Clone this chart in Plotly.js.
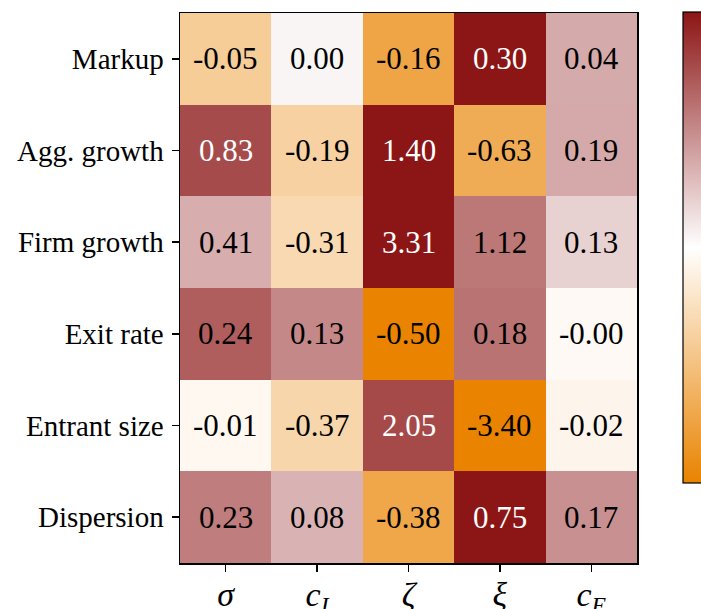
<!DOCTYPE html>
<html>
<head>
<meta charset="utf-8">
<script src="https://cdn.plot.ly/plotly-3.0.1.min.js"></script>
<style>html,body{margin:0;padding:0;background:#fff;}#chart{width:701px;height:609px;}</style>
</head>
<body>
<div id="chart"></div>
<script>
const rowLabels = ["Markup", "Agg. growth", "Firm growth", "Exit rate", "Entrant size", "Dispersion"];
const paramLabels = ["<i>σ</i>", "<i>c</i><sub><i>I</i></sub>", "<i>ζ</i>", "<i>ξ</i>", "<i>c</i><sub><i>E</i></sub>"];
const markup      = [-0.05, 0.0005, -0.16, 0.30, 0.04];
const aggGrowth   = [0.83, -0.19, 1.40, -0.63, 0.19];
const firmGrowth  = [0.41, -0.31, 3.31, 1.12, 0.13];
const exitRate    = [0.24, 0.13, -0.50, 0.18, -0.001];
const entrantSize = [-0.01, -0.37, 2.05, -3.40, -0.02];
const dispersion  = [0.23, 0.08, -0.38, 0.75, 0.17];

const values = [markup, aggGrowth, firmGrowth, exitRate, entrantSize, dispersion];
const xIdx = paramLabels.map((_, i) => i);

// colour intensity: signed square root of value relative to the row's largest magnitude
const zNorm = values.map(row => {
  const m = Math.max(...row.map(Math.abs));
  return row.map(v => Math.sign(v) * Math.sqrt(Math.abs(v) / m));
});

const annotations = [];
values.forEach((row, r) => {
  row.forEach((v, c) => {
    annotations.push({
      x: c, y: rowLabels[r], xref: 'x', yref: 'y',
      text: v.toFixed(2), showarrow: false,
      font: {family: 'Liberation Serif, serif', size: 31, color: zNorm[r][c] > 0.74 ? '#ffffff' : '#000000'}
    });
  });
});

const trace = {
  type: 'heatmap',
  x: xIdx,
  y: rowLabels,
  z: zNorm,
  zmin: -1, zmax: 1,
  colorscale: [[0, '#E98300'], [0.5, '#FFFFFF'], [1, '#8C1515']],
  hoverinfo: 'skip',
  colorbar: {
    x: 1.1007, xanchor: 'left', xpad: 0,
    y: 1.002, yanchor: 'top', ypad: 0,
    lenmode: 'pixels', len: 471,
    thickness: 30,
    outlinewidth: 1.2, outlinecolor: '#000',
    showticklabels: false, ticks: ''
  }
};

const layout = {
  width: 701, height: 609,
  margin: {l: 180, r: 64, t: 13, b: 46, autoexpand: false},
  paper_bgcolor: '#fff', plot_bgcolor: '#fff',
  font: {family: 'Liberation Serif, serif', color: '#000'},
  xaxis: {
    tickmode: 'array', tickvals: xIdx, ticktext: paramLabels,
    tickfont: {family: 'Liberation Serif, serif', size: 34},
    ticklabelstandoff: -6,
    ticks: 'outside', ticklen: 7, tickwidth: 1.5, tickcolor: '#000',
    showline: true, mirror: true, linecolor: '#000', linewidth: 1.5,
    showgrid: false, zeroline: false, range: [-0.5, 4.5]
  },
  yaxis: {
    autorange: 'reversed', type: 'category',
    tickfont: {family: 'Liberation Serif, serif', size: 29},
    ticklabelstandoff: 2,
    ticks: 'outside', ticklen: 7, tickwidth: 1.5, tickcolor: '#000',
    showline: true, mirror: true, linecolor: '#000', linewidth: 1.5,
    showgrid: false, zeroline: false
  },
  annotations: annotations
};

Plotly.newPlot('chart', [trace], layout, {staticPlot: true, displayModeBar: false});
</script>
</body>
</html>
